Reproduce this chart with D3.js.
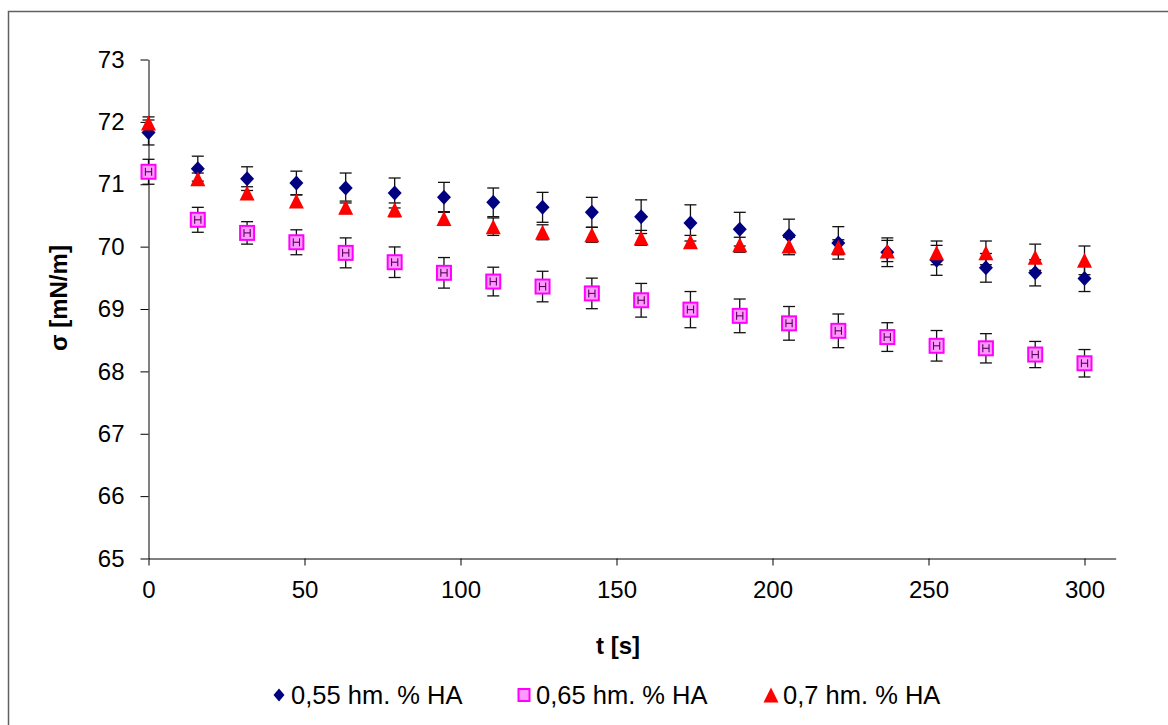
<!DOCTYPE html>
<html>
<head>
<meta charset="utf-8">
<script src="https://cdn.jsdelivr.net/npm/d3@7"></script>
<style>
  html, body { margin: 0; padding: 0; background: #fff; }
  svg { display: block; font-family: "Liberation Sans", Arial, sans-serif; }
</style>
</head>
<body>
<svg id="chart" width="1168" height="725"></svg>
<script>
// Surface tension over time for three HA concentrations
const times = [0, 15.8, 31.6, 47.4, 63.2, 78.9, 94.7, 110.5, 126.3, 142.1,
               157.9, 173.7, 189.5, 205.3, 221.1, 236.8, 252.6, 268.4, 284.2, 300];

const sigma055 = [71.83, 71.25, 71.09, 71.02, 70.94, 70.86, 70.79, 70.71, 70.63, 70.55,
                  70.48, 70.38, 70.28, 70.18, 70.06, 69.91, 69.78, 69.66, 69.58, 69.49];
const err055   = [0.20, 0.20, 0.19, 0.19, 0.24, 0.24, 0.24, 0.23, 0.24, 0.24,
                  0.27, 0.29, 0.27, 0.26, 0.26, 0.23, 0.24, 0.23, 0.21, 0.21];

const sigma065 = [71.20, 70.43, 70.22, 70.07, 69.90, 69.75, 69.58, 69.44, 69.36, 69.25,
                  69.14, 68.99, 68.89, 68.77, 68.65, 68.55, 68.41, 68.37, 68.27, 68.13];
const err065   = [0.20, 0.20, 0.18, 0.20, 0.24, 0.245, 0.245, 0.23, 0.245, 0.245,
                  0.27, 0.29, 0.27, 0.27, 0.27, 0.23, 0.245, 0.235, 0.21, 0.22];
const xerr065  = 1.0;

const sigma07  = [71.98, 71.09, 70.86, 70.73, 70.63, 70.59, 70.45, 70.32, 70.23, 70.19,
                  70.14, 70.08, 70.03, 70.01, 69.99, 69.93, 69.90, 69.90, 69.83, 69.78];
const err07    = [0.10, 0.09, 0.10, 0.10, 0.10, 0.11, 0.11, 0.14, 0.12, 0.12,
                  0.12, 0.10, 0.12, 0.14, 0.12, 0.17, 0.19, 0.19, 0.21, 0.23];

const seriesNames = ["0,55 hm. % HA", "0,65 hm. % HA", "0,7 hm. % HA"];
const xTicks = [0, 50, 100, 150, 200, 250, 300];
const yTicks = [65, 66, 67, 68, 69, 70, 71, 72, 73];

const svg = d3.select("#chart");

// outer chart frame
svg.append("rect")
  .attr("x", 8.5).attr("y", 11.5)
  .attr("width", 1200).attr("height", 800)
  .attr("fill", "none").attr("stroke", "#606060").attr("stroke-width", 1.5);

const x = d3.scaleLinear().domain([0, 310]).range([148.5, 1115.7]);
const y = d3.scaleLinear().domain([65, 73]).range([558.5, 59.5]);

const yAxis = svg.append("g")
  .attr("transform", "translate(148.5,0)")
  .call(d3.axisLeft(y).tickValues(yTicks).tickFormat(d3.format("d"))
        .tickSizeInner(8).tickSizeOuter(0).tickPadding(16));
const xAxis = svg.append("g")
  .attr("transform", "translate(0,558.5)")
  .call(d3.axisBottom(x).tickValues(xTicks).tickFormat(d3.format("d"))
        .tickSizeInner(7).tickSizeOuter(0).tickPadding(15));

[xAxis, yAxis].forEach(g => {
  g.select(".domain").attr("stroke", "#000").attr("stroke-width", 1);
  g.selectAll(".tick line").attr("stroke", "#000").attr("stroke-width", 1);
  g.selectAll(".tick text").attr("fill", "#000")
    .style("font-family", "'Liberation Sans', Arial, sans-serif")
    .style("font-size", "24px");
});

// axis titles
svg.append("text")
  .attr("x", 618).attr("y", 654)
  .attr("text-anchor", "middle")
  .style("font-size", "24px").style("font-weight", "bold")
  .text("t [s]");
svg.append("text")
  .attr("transform", "translate(67,298) rotate(-90)")
  .attr("text-anchor", "middle")
  .style("font-size", "24px").style("font-weight", "bold")
  .text("σ [mN/m]");

const series = [
  { vals: sigma055, errs: err055 },
  { vals: sigma065, errs: err065 },
  { vals: sigma07,  errs: err07 }
];

// vertical error bars
const capHalf = 6;
const eb = svg.append("g").attr("stroke", "#111").attr("stroke-width", 1.3).attr("fill", "none");
series.forEach(s => {
  s.vals.forEach((v, i) => {
    const cx = x(times[i]);
    const yt = y(v + s.errs[i]), yb = y(v - s.errs[i]);
    eb.append("line").attr("x1", cx).attr("x2", cx).attr("y1", yt).attr("y2", yb);
    eb.append("line").attr("x1", cx - capHalf).attr("x2", cx + capHalf).attr("y1", yt).attr("y2", yt);
    eb.append("line").attr("x1", cx - capHalf).attr("x2", cx + capHalf).attr("y1", yb).attr("y2", yb);
  });
});

// marker shapes
function diamondPath(cx, cy, w, h) {
  return `M${cx},${cy - h / 2}L${cx + w / 2},${cy}L${cx},${cy + h / 2}L${cx - w / 2},${cy}Z`;
}
function trianglePath(cx, cy, w, h) {
  return `M${cx},${cy - h / 2}L${cx + w / 2},${cy + h / 2}L${cx - w / 2},${cy + h / 2}Z`;
}

const marks = svg.append("g");
marks.selectAll("path.d055").data(sigma055).join("path")
  .attr("class", "d055")
  .attr("d", (v, i) => diamondPath(x(times[i]), y(v), 14, 15))
  .attr("fill", "#000080");

marks.selectAll("rect.d065").data(sigma065).join("rect")
  .attr("class", "d065")
  .attr("x", (v, i) => x(times[i]) - 7).attr("y", v => y(v) - 7)
  .attr("width", 14).attr("height", 14)
  .attr("fill", "#FF99FF").attr("stroke", "#FF00FF").attr("stroke-width", 2);

// horizontal error bars on the 0,65 series
const hb = svg.append("g").attr("stroke", "#5a005a").attr("stroke-width", 1.1).attr("fill", "none");
sigma065.forEach((v, i) => {
  const cy = y(v);
  const xl = x(times[i] - xerr065), xr = x(times[i] + xerr065);
  hb.append("line").attr("x1", xl).attr("x2", xr).attr("y1", cy).attr("y2", cy);
  hb.append("line").attr("x1", xl).attr("x2", xl).attr("y1", cy - 4).attr("y2", cy + 4);
  hb.append("line").attr("x1", xr).attr("x2", xr).attr("y1", cy - 4).attr("y2", cy + 4);
});

marks.selectAll("path.d07").data(sigma07).join("path")
  .attr("class", "d07")
  .attr("d", (v, i) => trianglePath(x(times[i]), y(v), 15, 15))
  .attr("fill", "#FF0000");

// legend
const legY = 695;
const legend = svg.append("g");
const legItems = [
  { sx: 279, tx: 291 },
  { sx: 524, tx: 536 },
  { sx: 771, tx: 783 }
];
legend.append("path").attr("d", diamondPath(legItems[0].sx, legY, 11, 13)).attr("fill", "#000080");
legend.append("rect").attr("x", legItems[1].sx - 5.5).attr("y", legY - 6)
  .attr("width", 11).attr("height", 12)
  .attr("fill", "#FF99FF").attr("stroke", "#FF00FF").attr("stroke-width", 2);
legend.append("path").attr("d", trianglePath(legItems[2].sx, legY, 15, 15)).attr("fill", "#FF0000");
legItems.forEach((it, k) => {
  legend.append("text")
    .attr("x", it.tx).attr("y", legY + 8.5)
    .style("font-size", "25.5px")
    .text(seriesNames[k]);
});
</script>
</body>
</html>
